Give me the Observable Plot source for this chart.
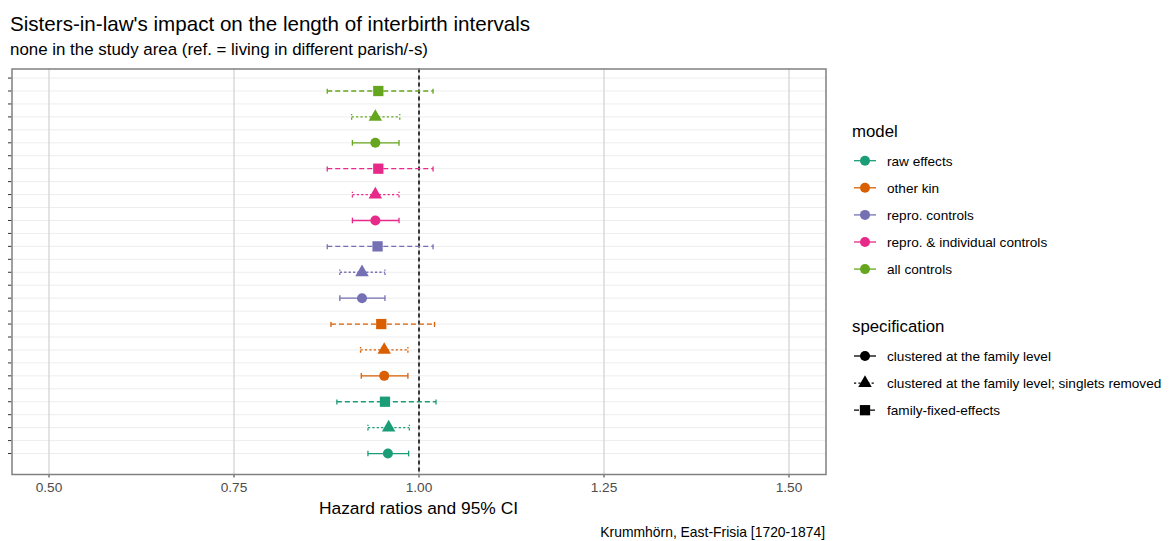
<!DOCTYPE html>
<html>
<head>
<meta charset="utf-8">
<script src="https://cdn.jsdelivr.net/npm/d3@7"></script>
<script src="https://cdn.jsdelivr.net/npm/@observablehq/plot@0.6"></script>
<style>
  body { margin: 0; background: #fff; font-family: "Liberation Sans", Arial, sans-serif; }
  #wrap { position: relative; width: 1169px; height: 541px; overflow: hidden; }
  .t { position: absolute; white-space: nowrap; line-height: 1; }
</style>
</head>
<body>
<div id="wrap">
  <div class="t" id="title" style="left:10px; top:13.5px; font-size:20.6px; color:#000;">Sisters-in-law's impact on the length of interbirth intervals</div>
  <div class="t" id="subtitle" style="left:10px; top:41.5px; font-size:16.9px; color:#000;">none in the study area (ref. = living in different parish/-s)</div>
  <div id="chart" style="position:absolute; left:0; top:60px;"></div>
  <div class="t" id="xlabel" style="left:0; width:837px; text-align:center; top:499.5px; font-size:17.4px; color:#000;">Hazard ratios and 95% CI</div>
  <div class="t" id="caption" style="right:344px; top:526px; font-size:13.9px; color:#000;">Krummhörn, East-Frisia [1720-1874]</div>
  <svg id="legend" style="position:absolute; left:840px; top:0;" width="329" height="541"></svg>
</div>
<script>
// ---- data ----
const models = ["raw effects", "other kin", "repro. controls", "repro. & individual controls", "all controls"];
const modelColors = ["#1B9E77", "#D95F02", "#7570B3", "#E7298A", "#66A61E"];
const specs = ["clustered at the family level", "clustered at the family level; singlets removed", "family-fixed-effects"];
// rows from bottom: for each model -> [clustered, singlets removed, fixed effects]
const rowModel = ["raw effects","raw effects","raw effects",
  "other kin","other kin","other kin",
  "repro. controls","repro. controls","repro. controls",
  "repro. & individual controls","repro. & individual controls","repro. & individual controls",
  "all controls","all controls","all controls"];
const rowSpec = [0,1,2, 0,1,2, 0,1,2, 0,1,2, 0,1,2].map(i => specs[i]);
const estimate = [0.958, 0.959, 0.954,  0.953, 0.953, 0.949,  0.923, 0.923, 0.944,  0.941, 0.941, 0.945,  0.941, 0.941, 0.945];
const lower    = [0.931, 0.931, 0.889,  0.922, 0.921, 0.881,  0.893, 0.893, 0.876,  0.910, 0.910, 0.876,  0.910, 0.909, 0.876];
const upper    = [0.986, 0.987, 1.023,  0.985, 0.985, 1.021,  0.954, 0.954, 1.019,  0.973, 0.973, 1.019,  0.973, 0.974, 1.019];
const xTicks = [0.5, 0.75, 1.0, 1.25, 1.5];
const xTickLabels = ["0.50", "0.75", "1.00", "1.25", "1.50"];

const rows = estimate.map((e, i) => ({
  row: i + 1, model: rowModel[i], spec: rowSpec[i], est: e, lo: lower[i], hi: upper[i]
}));
const yTicks = d3.range(1, 15.51, 0.5);

const specStyle = {
  [specs[0]]: {dash: null, symbol: "circle", r: 5},
  [specs[1]]: {dash: "2.2,2.2", symbol: "triangle", r: 5},
  [specs[2]]: {dash: "5,3", symbol: "square", r: 5.8}
};

const marks = [
  Plot.ruleY(yTicks, {stroke: "#ededed", strokeWidth: 1}),
  Plot.ruleX(xTicks, {stroke: "#d4d4d4", strokeWidth: 1.3}),
  Plot.ruleX([1], {stroke: "#000", strokeWidth: 1.5, strokeDasharray: "4,3"})
];
for (const s of specs) {
  const st = specStyle[s];
  const d = rows.filter(r => r.spec === s);
  const lineOpts = {stroke: "model", strokeWidth: 1.3};
  if (st.dash) lineOpts.strokeDasharray = st.dash;
  marks.push(Plot.link(d, {x1: "lo", x2: "hi", y1: "row", y2: "row", ...lineOpts}));
  marks.push(Plot.link(d, {x1: "lo", x2: "lo", y1: r => r.row - 0.11, y2: r => r.row + 0.11, ...lineOpts}));
  marks.push(Plot.link(d, {x1: "hi", x2: "hi", y1: r => r.row - 0.11, y2: r => r.row + 0.11, ...lineOpts}));
  marks.push(Plot.dot(d, {x: "est", y: "row", fill: "model", stroke: "none", symbol: () => st.symbol, r: st.r}));
}
marks.push(Plot.axisX(xTicks, {tickSize: 3.5, tickPadding: 4, tickFormat: (d, i) => xTickLabels[i], fontSize: 13.7, color: "#4d4d4d", stroke: "#333", label: null}));
marks.push(Plot.axisY(yTicks, {tickSize: 3.5, tickFormat: () => "", stroke: "#333", label: null}));
marks.push(Plot.frame({stroke: "#808080", strokeWidth: 1.5}));

const chart = Plot.plot({
  width: 840,
  height: 481,
  marginTop: 8.5,
  marginBottom: 67,
  marginLeft: 11.5,
  marginRight: 14.5,
  x: {domain: [0.45, 1.55]},
  y: {domain: [0.19, 15.85]},
  color: {domain: models, range: modelColors},
  symbol: {type: "identity"},
  style: {fontFamily: "Liberation Sans, Arial, sans-serif", fontSize: "13.7px", color: "#4d4d4d", background: "transparent"},
  marks
});
document.getElementById("chart").appendChild(chart);

// ---- legend ----
const lg = d3.select("#legend");
const font = "Liberation Sans, Arial, sans-serif";
lg.append("text").attr("x", 12).attr("y", 136.5).attr("font-family", font).attr("font-size", 16.8).attr("fill", "#000").text("model");
models.forEach((m, i) => {
  const y = 160.7 + i * 27.1;
  lg.append("line").attr("x1", 14).attr("x2", 36).attr("y1", y).attr("y2", y).attr("stroke", modelColors[i]).attr("stroke-width", 1.3);
  lg.append("circle").attr("cx", 25).attr("cy", y).attr("r", 5).attr("fill", modelColors[i]);
  lg.append("text").attr("x", 47).attr("y", y + 4.8).attr("font-family", font).attr("font-size", 13.6).attr("fill", "#000").text(m);
});
lg.append("text").attr("x", 12).attr("y", 331.8).attr("font-family", font).attr("font-size", 16.8).attr("fill", "#000").text("specification");
specs.forEach((s, i) => {
  const y = 356 + i * 27.1;
  const st = specStyle[s];
  const ln = lg.append("line").attr("x1", 14).attr("x2", 36).attr("y1", y).attr("y2", y).attr("stroke", "#000").attr("stroke-width", 1.3);
  if (st.dash) ln.attr("stroke-dasharray", st.dash);
  const sym = {circle: d3.symbolCircle, triangle: d3.symbolTriangle, square: d3.symbolSquare}[st.symbol];
  lg.append("path").attr("transform", `translate(25,${y})`).attr("d", d3.symbol(sym, Math.PI * st.r * st.r)()).attr("fill", "#000");
  lg.append("text").attr("x", 47).attr("y", y + 4.8).attr("font-family", font).attr("font-size", 13.6).attr("fill", "#000").text(s);
});
</script>
</body>
</html>
